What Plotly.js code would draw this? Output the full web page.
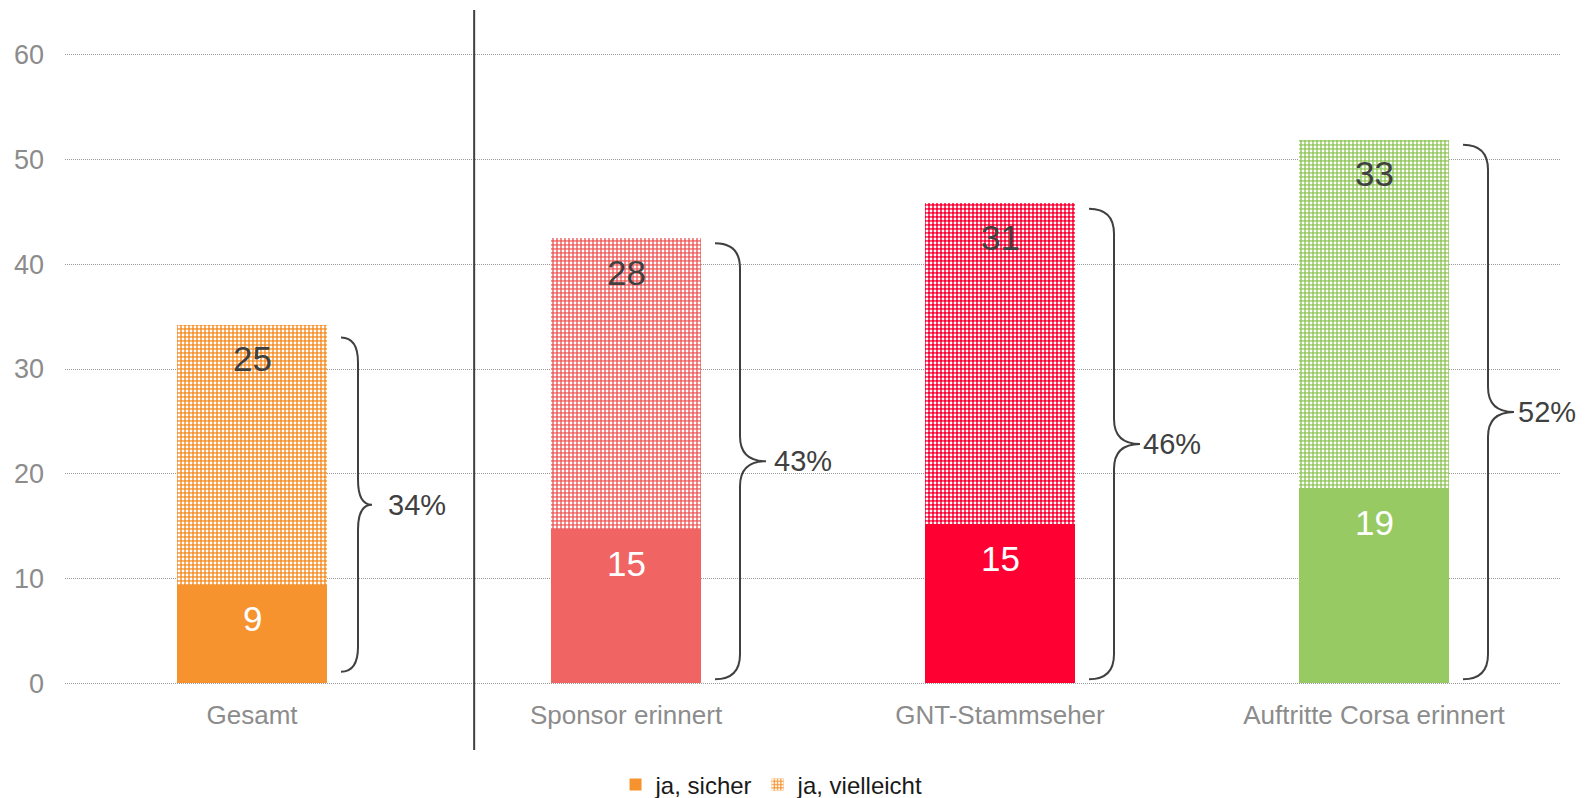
<!DOCTYPE html>
<html><head><meta charset="utf-8">
<script src="https://cdn.plot.ly/plotly-3.0.1.min.js"></script>
<style>html,body{margin:0;padding:0;background:#fff}</style>
</head><body><div id="chart" style="width:1590px;height:798px"></div>
<script>
// ---- data ----
const categories = ['Gesamt', 'Sponsor erinnert', 'GNT-Stammseher', 'Auftritte Corsa erinnert'];
const sicher = [9.4, 14.7, 15.2, 18.6];
const vielleicht = [24.8, 27.8, 30.6, 33.3];
const seriesNames = ['ja, sicher', 'ja, vielleicht'];
const yTicks = [0, 10, 20, 30, 40, 50, 60];

// ---- styles ----
const barColors = ['#F7932F', '#F06464', '#FF0033', '#97CA62'];
const FONT = 'Liberation Sans, Arial, sans-serif';
const W = 1590, H = 798, M = {l: 65, r: 29, t: 53, b: 113, autoexpand: false};
const plotW = W - M.l - M.r, plotH = H - M.t - M.b;
const xRange = [-0.5, 3.5], yRange = [-0.16, 60.16];
const pxX = (xRange[1] - xRange[0]) / plotW, pxY = (yRange[1] - yRange[0]) / plotH;
const braceGeom = [
  {l: 89, v: 106, t: 120, lo: 1.1, gap: 1.2, lab: 14},
  {l: 89, v: 114, t: 140, lo: 0.4, gap: 0.5, lab: 6},
  {l: 89, v: 114, t: 140, lo: 0.4, gap: 0.5, lab: 1},
  {l: 89, v: 114, t: 140, lo: 0.4, gap: 0.5, lab: 2}
];

const xs = categories.map((c, i) => i);
const totals = sicher.map((v, i) => v + vielleicht[i]);

const traces = [
  {type: 'bar', x: xs, y: sicher, name: seriesNames[0], width: 0.4,
   marker: {color: barColors, line: {width: 0}}, hoverinfo: 'none'},
  {type: 'bar', x: xs, y: vielleicht, name: seriesNames[1], width: 0.4,
   marker: {color: barColors[0], line: {width: 0},
            pattern: {shape: '.', fgcolor: '#ffffff', bgcolor: barColors, size: 4, solidity: 0.4, fillmode: 'replace'}},
   hoverinfo: 'none'}
];

const shapes = [];
const annotations = [];
xs.forEach(i => {
  const g = braceGeom[i];
  const xL = i + g.l * pxX, xV = i + g.v * pxX, xT = i + g.t * pxX;
  const yB = g.lo, yT = totals[i] - g.gap, yM = (yB + yT) / 2, r = 25 * pxY;
  shapes.push({type: 'path', xref: 'x', yref: 'y',
    path: `M${xL},${yT} Q${xV},${yT} ${xV},${yT - r} L${xV},${yM + r} Q${xV},${yM} ${xT},${yM} Q${xV},${yM} ${xV},${yM - r} L${xV},${yB + r} Q${xV},${yB} ${xL},${yB}`,
    line: {color: '#404040', width: 2}});
  annotations.push({x: i + (g.t + g.lab) * pxX, y: yM, xref: 'x', yref: 'y', xanchor: 'left', yanchor: 'middle',
    text: Math.round(totals[i]) + '%', showarrow: false, font: {family: FONT, size: 29, color: '#404040'}});
  annotations.push({x: i, y: sicher[i], xref: 'x', yref: 'y', yanchor: 'middle', yshift: -34,
    text: String(Math.round(sicher[i])), showarrow: false, font: {family: FONT, size: 35, color: '#ffffff'}});
  annotations.push({x: i, y: totals[i], xref: 'x', yref: 'y', yanchor: 'middle', yshift: -34,
    text: String(Math.round(vielleicht[i])), showarrow: false, font: {family: FONT, size: 35, color: '#404040'}});
});
// separator between "Gesamt" and the subgroups
shapes.push({type: 'line', xref: 'x', yref: 'paper', x0: 0.594, x1: 0.594,
  y0: -(750 - (H - M.b)) / plotH, y1: 1 + (M.t - 10) / plotH, line: {color: '#404040', width: 2}});

const layout = {
  width: W, height: H, margin: M, paper_bgcolor: '#fff', plot_bgcolor: '#fff',
  font: {family: FONT},
  barmode: 'stack', showlegend: true,
  xaxis: {range: xRange, tickvals: xs, ticktext: categories, showgrid: false, zeroline: false, showline: false,
          ticks: '', ticklabelstandoff: 12, tickfont: {family: FONT, size: 26, color: '#8c8c8c'}, fixedrange: true},
  yaxis: {range: yRange, tickvals: yTicks, showgrid: true, gridcolor: '#9a9a9a', griddash: '1px,1px', gridwidth: 1,
          zeroline: false, showline: false, ticks: '', ticklabelstandoff: 20,
          tickfont: {family: FONT, size: 27, color: '#8c8c8c'}, fixedrange: true},
  legend: {orientation: 'h', x: 0.368, xanchor: 'left', y: -(785 - (H - M.b)) / plotH, yanchor: 'middle',
           font: {family: FONT, size: 24, color: '#1a1a1a'}, traceorder: 'normal', bgcolor: 'rgba(0,0,0,0)'},
  shapes: shapes, annotations: annotations
};
Plotly.newPlot('chart', traces, layout, {staticPlot: true, displayModeBar: false});
</script></body></html>
